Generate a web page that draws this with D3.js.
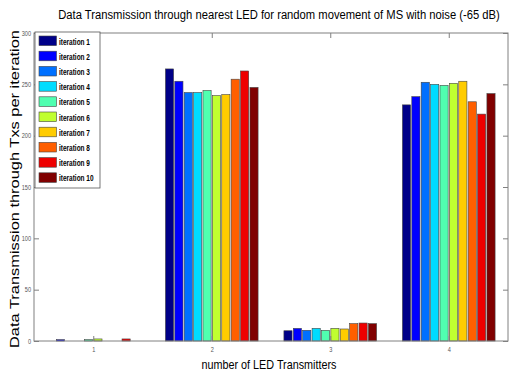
<!DOCTYPE html>
<html>
<head>
<meta charset="utf-8">
<script src="https://cdn.jsdelivr.net/npm/d3@7"></script>
<style>
  body { margin: 0; background: #fff; }
  svg { display: block; }
</style>
</head>
<body>
<div id="chart"></div>
<script>
// LED transmitters on the x axis
const transmitters = [1, 2, 3, 4];

// one array per iteration, value for each transmitter
const iteration1  = [0,   265, 10,   230];
const iteration2  = [1.3, 253, 12.3, 238];
const iteration3  = [0,   242, 10.4, 252];
const iteration4  = [0,   242, 12.3, 250];
const iteration5  = [1.3, 244, 10.4, 249];
const iteration6  = [2,   239, 12.3, 251];
const iteration7  = [0,   240, 11.7, 253];
const iteration8  = [0,   255, 16.9, 233];
const iteration9  = [2,   263, 17.5, 221];
const iteration10 = [0,   247, 16.9, 241];

const seriesNames = ["iteration 1", "iteration 2", "iteration 3", "iteration 4", "iteration 5",
                     "iteration 6", "iteration 7", "iteration 8", "iteration 9", "iteration 10"];
const seriesValues = [iteration1, iteration2, iteration3, iteration4, iteration5,
                      iteration6, iteration7, iteration8, iteration9, iteration10];
const seriesColors = ["#000088", "#0000ff", "#0070ff", "#00dcff", "#50ffb0",
                      "#c0ff30", "#ffcc00", "#ff5f00", "#ee0000", "#800000"];

const yTicks = [0, 50, 100, 150, 200, 250, 300];

const width = 515, height = 374;
const margin = {top: 33, right: 7, bottom: 33, left: 34};

const svg = d3.select("#chart").append("svg")
    .attr("width", width)
    .attr("height", height);

const x = d3.scaleLinear()
    .domain([0.5, 4.5])
    .range([margin.left, width - margin.right]);

const y = d3.scaleLinear()
    .domain([0, 300])
    .range([height - margin.bottom, margin.top]);

const groupWidth = (x(2) - x(1)) * 0.782;
const inner = d3.scaleBand()
    .domain(d3.range(seriesNames.length))
    .range([-groupWidth / 2, groupWidth / 2])
    .paddingInner(0.13);

const font = "'Liberation Sans', Arial, sans-serif";
const axisColor = "#808080";

// squeeze a text horizontally to mimic the narrow font of the original
function narrow(sel, factor) {
    sel.each(function () {
        const len = this.getComputedTextLength();
        d3.select(this).attr("textLength", len * factor).attr("lengthAdjust", "spacingAndGlyphs");
    });
}

// bars
seriesValues.forEach((vals, si) => {
    svg.append("g")
        .selectAll("rect")
        .data(vals.map((v, i) => ({cat: transmitters[i], v: v})))
        .join("rect")
        .attr("x", d => x(d.cat) + inner(si))
        .attr("y", d => y(d.v))
        .attr("width", inner.bandwidth())
        .attr("height", d => y(0) - y(d.v))
        .attr("fill", seriesColors[si])
        .attr("stroke", "#444")
        .attr("stroke-width", 0.6);
});

// axes box with inward ticks
svg.append("rect")
    .attr("x", x.range()[0]).attr("y", y.range()[1])
    .attr("width", x.range()[1] - x.range()[0])
    .attr("height", y.range()[0] - y.range()[1])
    .attr("fill", "none")
    .attr("stroke", axisColor)
    .attr("stroke-width", 1);

const xAxis = d3.axisBottom(x).tickValues(transmitters).tickFormat(d3.format("d")).tickSize(-5).tickPadding(6);
svg.append("g")
    .attr("transform", `translate(0,${y(0)})`)
    .call(xAxis);
const xTop = d3.axisTop(x).tickValues(transmitters).tickSize(-5).tickFormat("");
svg.append("g").attr("transform", `translate(0,${y(300)})`).call(xTop);

const yAxis = d3.axisLeft(y).tickValues(yTicks).tickFormat(d3.format("d")).tickSize(-5).tickPadding(3);
svg.append("g")
    .attr("transform", `translate(${x(0.5)},0)`)
    .call(yAxis);
const yRight = d3.axisRight(y).tickValues(yTicks).tickSize(-5).tickFormat("");
svg.append("g").attr("transform", `translate(${x(4.5)},0)`).call(yRight);

svg.selectAll(".domain").remove();
svg.selectAll(".tick line").attr("stroke", axisColor);
svg.selectAll(".tick text")
    .attr("fill", "#555")
    .style("font-family", font)
    .style("font-size", "7px")
    .call(narrow, 0.8);

// legend
const legend = svg.append("g").attr("transform", "translate(35,32)");
legend.append("rect")
    .attr("width", 65).attr("height", 156)
    .attr("fill", "#fff")
    .attr("stroke", "#555")
    .attr("stroke-width", 0.8);
seriesNames.forEach((name, i) => {
    const g = legend.append("g").attr("transform", `translate(4,${4 + i * 15.2})`);
    g.append("rect")
        .attr("width", 17.5).attr("height", 9.6)
        .attr("fill", seriesColors[i])
        .attr("stroke", "#444").attr("stroke-width", 0.6);
    g.append("text")
        .attr("x", 20).attr("y", 8.5)
        .text(name)
        .style("font-family", font)
        .style("font-size", "9px")
        .style("font-weight", "bold")
        .attr("fill", "#000")
        .call(narrow, 0.72);
});

// title: drawn at a smaller natural size then stretched vertically
const title = svg.append("text")
    .attr("text-anchor", "middle")
    .style("font-family", font)
    .style("font-size", "11px")
    .text("Data Transmission through nearest LED for random movement of MS with noise (-65 dB)");
const titleScaleX = 442 / title.node().getComputedTextLength();
title.attr("transform", `translate(279,19) scale(${titleScaleX},${13.5 / 11})`);

svg.append("text")
    .attr("x", 269).attr("y", 369)
    .attr("text-anchor", "middle")
    .style("font-family", font)
    .style("font-size", "13.5px")
    .attr("textLength", 135)
    .attr("lengthAdjust", "spacingAndGlyphs")
    .text("number of LED Transmitters");

svg.append("text")
    .attr("transform", "translate(19,189) rotate(-90)")
    .attr("text-anchor", "middle")
    .style("font-family", font)
    .style("font-size", "13.5px")
    .attr("textLength", 318)
    .attr("lengthAdjust", "spacingAndGlyphs")
    .text("Data Transmission through Txs per iteration");
</script>
</body>
</html>
